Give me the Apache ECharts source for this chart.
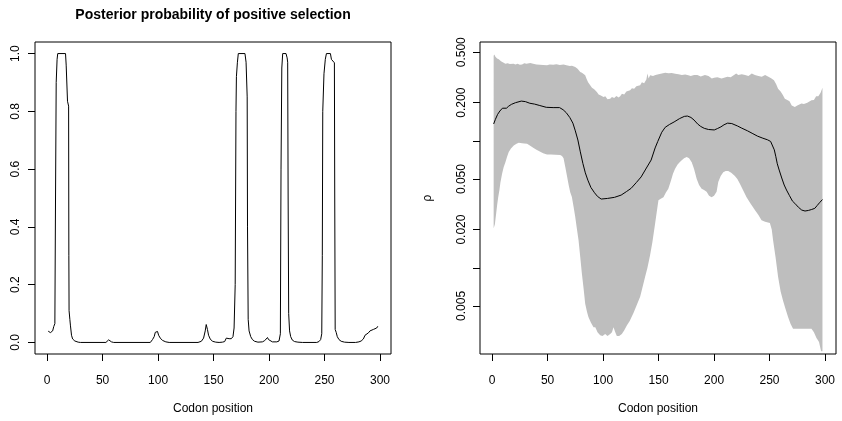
<!DOCTYPE html>
<html>
<head>
<meta charset="utf-8">
<script src="https://cdn.jsdelivr.net/npm/echarts@6/dist/echarts.min.js"></script>
<style>html,body{margin:0;padding:0;background:#fff}#c{width:842px;height:421px}</style>
</head>
<body>
<div id="c"></div>
<script>
// ---- Data ----
var xTicks = [0, 50, 100, 150, 200, 250, 300];
var probTicks = [0, 0.2, 0.4, 0.6, 0.8, 1.0];
var rhoTicks = [0.005, 0.01, 0.02, 0.05, 0.1, 0.2, 0.5];
var rhoLabels = [0.005, 0.02, 0.05, 0.2, 0.5];

// Posterior probability of positive selection [codon, probability]
var posterior = [[1,0.039],[2,0.036],[3,0.034],[4,0.035],[5,0.04],[6,0.055],[7,0.065],[7.6,0.5],[8.2,0.9],[9,0.98],[9.6,1.0],[16.6,1.0],[17.2,0.96],[18.4,0.835],[19.4,0.818],[19.6,0.3],[19.8,0.11],[20.5,0.08],[21,0.06],[22,0.025],[23,0.012],[25,0.005],[28,0.001],[30,0],[53,0],[55.5,0.009],[58,0.002],[60,0],[93,0],[95,0.01],[96.5,0.02],[97.5,0.035],[98.5,0.04],[99.5,0.038],[100.5,0.025],[102,0.015],[104,0.007],[107,0.002],[110,0],[136,0],[139,0.004],[141,0.015],[142.5,0.04],[143.4,0.062],[144.5,0.045],[145.5,0.025],[147,0.012],[149,0.004],[152,0.001],[155,0],[158,0.001],[160,0.003],[161.5,0.015],[162.5,0.017],[164,0.013],[166,0.013],[167.5,0.02],[168.5,0.05],[169.5,0.2],[170.2,0.8],[170.6,0.92],[171.5,0.97],[172.3,1.0],[178.3,1.0],[179.3,0.97],[180.3,0.85],[180.6,0.4],[181.2,0.08],[182,0.04],[183.5,0.02],[185,0.01],[187,0.004],[190,0.001],[194,0.002],[196,0.006],[197.5,0.012],[198.6,0.017],[199.5,0.01],[201,0.004],[203,0.002],[207,0.002],[209,0.005],[210.2,0.03],[210.8,0.6],[211.5,0.95],[212.3,1.0],[215.3,1.0],[216.3,0.985],[216.8,0.97],[217.2,0.5],[217.7,0.1],[218.5,0.04],[219.5,0.02],[221,0.008],[223,0.003],[226,0.001],[230,0],[243,0],[245,0.003],[246.5,0.01],[247.5,0.03],[248,0.3],[248.4,0.8],[249.5,0.93],[250.7,0.98],[251.7,1.0],[255.3,1.0],[256.2,0.98],[257.5,0.975],[258.9,0.968],[259.2,0.5],[259.6,0.045],[260.5,0.035],[261.5,0.02],[263,0.01],[265,0.004],[268,0.001],[272,0],[278,0],[281,0.002],[283,0.005],[285,0.012],[286.5,0.025],[288,0.028],[289.5,0.033],[291,0.04],[292.5,0.043],[294,0.045],[295.5,0.044],[297,0.05],[298,0.056]];

// rho median [codon, rho]
var rhoMedian = [[1.4,0.136],[3,0.148],[5,0.162],[7,0.172],[9.3,0.181],[12.9,0.181],[15,0.188],[17.4,0.194],[21,0.2],[26.3,0.206],[30,0.204],[34,0.198],[38.3,0.195],[43,0.19],[48.8,0.184],[55,0.183],[60.8,0.183],[64,0.176],[66.8,0.167],[70,0.153],[72.8,0.138],[75,0.12],[77.3,0.1016],[79.5,0.082],[81.8,0.0665],[84,0.056],[86.3,0.049],[89,0.043],[92.3,0.039],[95,0.0365],[98.3,0.0348],[104,0.0352],[110.3,0.0359],[116.3,0.0374],[121,0.0398],[125.3,0.0423],[130,0.047],[134.3,0.052],[138.5,0.06],[143.3,0.0706],[146.9,0.088],[149.3,0.0990],[152.9,0.117],[156,0.128],[160,0.135],[164,0.141],[169,0.15],[173.2,0.156],[176,0.157],[179.2,0.153],[182,0.146],[185.2,0.136],[188,0.13],[191.2,0.1256],[195,0.123],[200.2,0.122],[203,0.125],[206.2,0.129],[209,0.134],[212.2,0.138],[216,0.137],[221.2,0.131],[225,0.126],[230.2,0.12],[235,0.114],[239.2,0.109],[244,0.105],[248.2,0.102],[251,0.099],[252.7,0.0957],[254.3,0.085],[255.7,0.075],[257,0.066],[258.7,0.0589],[261,0.051],[263.2,0.0449],[265.3,0.041],[268,0.037],[270.7,0.0335],[272.8,0.0322],[276,0.03],[279,0.0285],[282,0.028],[285,0.0283],[288,0.0288],[290.8,0.0294],[293,0.031],[295,0.0325],[297.7,0.0345]];

// rho interval upper bound [codon, rho]
var rhoUpper = [[1.4,0.47],[2,0.48],[3,0.46],[4.5,0.446],[6,0.44],[8,0.425],[10,0.415],[12,0.406],[14,0.41],[16,0.404],[19.4,0.406],[21,0.4],[23,0.405],[25,0.398],[27,0.40],[29,0.41],[31,0.405],[34.4,0.412],[37,0.405],[40,0.4],[43,0.398],[46,0.396],[49.5,0.394],[52,0.4],[55,0.398],[58,0.402],[61,0.397],[64.4,0.40],[67,0.395],[70,0.39],[72,0.392],[74.9,0.383],[77,0.37],[79.4,0.35],[81,0.345],[83.9,0.329],[85,0.31],[86.5,0.29],[88.4,0.275],[90,0.262],[92,0.255],[94.4,0.243],[96,0.232],[98,0.228],[100.4,0.222],[102,0.225],[104,0.213],[106.4,0.215],[108,0.222],[110,0.218],[112,0.226],[114,0.22],[115.4,0.225],[117,0.235],[119,0.232],[121,0.245],[124.4,0.251],[126,0.26],[128,0.258],[130,0.27],[133.4,0.275],[135,0.29],[137,0.285],[139,0.305],[140,0.34],[141,0.31],[142.4,0.329],[145,0.325],[147.2,0.33],[150,0.335],[153,0.34],[156,0.345],[159,0.342],[161.9,0.343],[165,0.338],[168,0.336],[171,0.33],[174,0.333],[176.8,0.329],[179,0.325],[182,0.33],[185,0.33],[188,0.322],[191.8,0.33],[195,0.325],[198,0.31],[200,0.315],[203,0.318],[206.8,0.31],[209,0.315],[212,0.32],[215,0.318],[218,0.33],[220,0.34],[221.8,0.33],[225,0.335],[228,0.33],[231,0.325],[234,0.34],[236.8,0.33],[240,0.325],[243,0.32],[246,0.33],[249,0.32],[251.8,0.31],[254,0.3],[256,0.28],[257.7,0.258],[260,0.245],[262,0.23],[263.8,0.215],[266,0.21],[268,0.205],[270,0.19],[272.8,0.185],[275,0.19],[278.8,0.197],[281,0.195],[284,0.2],[287.8,0.209],[290,0.21],[292,0.225],[294,0.225],[296,0.24],[297.7,0.262]];

// rho interval lower bound [codon, rho]
var rhoLower = [[1.4,0.0205],[2.5,0.022],[3.5,0.026],[4.5,0.031],[5.5,0.036],[6.6,0.041],[7.5,0.047],[9,0.055],[10.4,0.062],[12,0.068],[13.5,0.075],[15,0.0817],[17,0.087],[19.5,0.092],[22,0.095],[24,0.0965],[27,0.096],[29,0.0955],[31.5,0.095],[34,0.092],[37.4,0.088],[40,0.085],[43.4,0.082],[46,0.08],[49.5,0.078],[53,0.078],[57,0.0778],[61.4,0.0775],[63,0.076],[64.4,0.073],[66,0.062],[67.4,0.0534],[69,0.045],[70.4,0.0394],[71.9,0.0362],[73.5,0.03],[74.9,0.0252],[76.5,0.02],[77.9,0.0165],[79.5,0.012],[80.9,0.009],[82.5,0.0068],[83.9,0.0052],[85.5,0.0045],[86.8,0.0041],[89,0.0037],[91.4,0.0034],[93,0.0034],[95,0.0031],[97.4,0.00294],[99.5,0.0029],[101.9,0.003],[104,0.0029],[106.4,0.003],[108,0.0031],[109.4,0.0034],[111,0.0031],[112.4,0.0029],[114.5,0.0029],[116.9,0.003],[119,0.0032],[121.4,0.0035],[124,0.0038],[127.4,0.0044],[130,0.005],[133.4,0.0059],[135.5,0.007],[137.9,0.0085],[140,0.01],[142.4,0.0126],[144.5,0.016],[146.9,0.0223],[148.5,0.028],[149.9,0.034],[152,0.035],[154.4,0.036],[156.5,0.039],[158.8,0.042],[161,0.048],[163,0.055],[164.8,0.06],[167,0.065],[169,0.068],[170.9,0.0703],[173,0.073],[175.4,0.0747],[177.5,0.073],[179.9,0.068],[182,0.06],[184.4,0.05],[186.5,0.045],[188.8,0.042],[191,0.041],[193.3,0.0397],[195.5,0.037],[197.8,0.0359],[200,0.037],[202.3,0.0397],[203.8,0.0474],[206,0.053],[208.3,0.0567],[210.5,0.058],[212.8,0.058],[215.5,0.056],[218.8,0.053],[221,0.05],[223.3,0.046],[226.3,0.0407],[229.3,0.0359],[233,0.032],[236.8,0.0285],[240,0.026],[242.8,0.0237],[246,0.023],[250.3,0.0225],[252,0.02],[253.2,0.0165],[255.5,0.012],[257.7,0.0085],[260,0.0065],[262.2,0.0055],[264.5,0.0047],[266.7,0.0041],[269,0.0036],[271.2,0.0033],[275,0.0033],[280,0.0033],[285,0.0033],[287.8,0.0033],[290,0.0031],[292.3,0.0028],[293.5,0.0027],[294.6,0.0026],[295.5,0.0024],[296.5,0.0022],[297.7,0.0022]];

// ---- Chart ----
var FONT = '"Liberation Sans", Arial, Helvetica, sans-serif';
var chart = echarts.init(document.getElementById('c'), null, {renderer: 'canvas'});

function xAxisCfg(gi) {
  return {
    type: 'value', gridIndex: gi, min: -10.9, max: 309.9,
    name: 'Codon position', nameLocation: 'middle', nameGap: 49,
    nameTextStyle: {fontFamily: FONT, fontSize: 12, color: '#000'},
    axisLine: {show: false, onZero: false},
    axisTick: {show: true, inside: false, length: 7, lineStyle: {color: '#000', width: 1}, customValues: xTicks},
    axisLabel: {show: true, margin: 21, fontFamily: FONT, fontSize: 12, color: '#000', customValues: xTicks},
    splitLine: {show: false}
  };
}

var option = {
  animation: false,
  backgroundColor: '#fff',
  title: {
    text: 'Posterior probability of positive selection',
    left: 213, top: 8, padding: 0, textAlign: 'center',
    textStyle: {fontFamily: FONT, fontSize: 14, fontWeight: 'bold', color: '#000'}
  },
  grid: [
    {left: 35, top: 42, width: 356, height: 312, show: true, borderColor: '#000', borderWidth: 1, backgroundColor: 'transparent'},
    {left: 480, top: 42, width: 356, height: 312, show: true, borderColor: '#000', borderWidth: 1, backgroundColor: 'transparent'}
  ],
  xAxis: [xAxisCfg(0), xAxisCfg(1)],
  yAxis: [
    {
      type: 'value', gridIndex: 0, min: -0.04, max: 1.04,
      axisLine: {show: false, onZero: false},
      axisTick: {show: true, inside: false, length: 7, lineStyle: {color: '#000', width: 1}, customValues: probTicks},
      axisLabel: {show: true, rotate: 90, margin: 13, fontFamily: FONT, fontSize: 12, color: '#000', customValues: probTicks,
        formatter: function (v) { return v.toFixed(1); }},
      splitLine: {show: false}
    },
    {
      type: 'log', gridIndex: 1, min: 0.00209, max: 0.602, logBase: 10,
      name: 'ρ', nameLocation: 'middle', nameGap: 46,
      nameTextStyle: {fontFamily: FONT, fontSize: 12, color: '#000'},
      axisLine: {show: false, onZero: false},
      axisTick: {show: true, inside: false, length: 7, lineStyle: {color: '#000', width: 1}, customValues: rhoTicks},
      axisLabel: {show: true, rotate: 90, margin: 12, fontFamily: FONT, fontSize: 12, color: '#000', customValues: rhoLabels,
        formatter: function (v) { return Number(v).toFixed(3); }},
      splitLine: {show: false}
    }
  ],
  series: [
    {
      type: 'line', xAxisIndex: 0, yAxisIndex: 0, data: posterior,
      showSymbol: false, symbol: 'none', lineStyle: {color: '#000', width: 1}, silent: true, z: 3
    },
    {
      type: 'custom', xAxisIndex: 1, yAxisIndex: 1, data: rhoUpper, silent: true, z: 1, clip: true,
      encode: {x: 0, y: 1},
      renderItem: function (params, api) {
        if (params.dataIndex !== 0) return null;
        var pts = [];
        for (var i = 0; i < rhoUpper.length; i++) pts.push(api.coord(rhoUpper[i]));
        for (var j = rhoLower.length - 1; j >= 0; j--) pts.push(api.coord(rhoLower[j]));
        return {type: 'polygon', shape: {points: pts}, style: {fill: '#BEBEBE', stroke: null}};
      }
    },
    {
      type: 'line', xAxisIndex: 1, yAxisIndex: 1, data: rhoMedian,
      showSymbol: false, symbol: 'none', lineStyle: {color: '#000', width: 1}, silent: true, z: 3
    }
  ]
};
chart.setOption(option);
</script>
</body>
</html>
